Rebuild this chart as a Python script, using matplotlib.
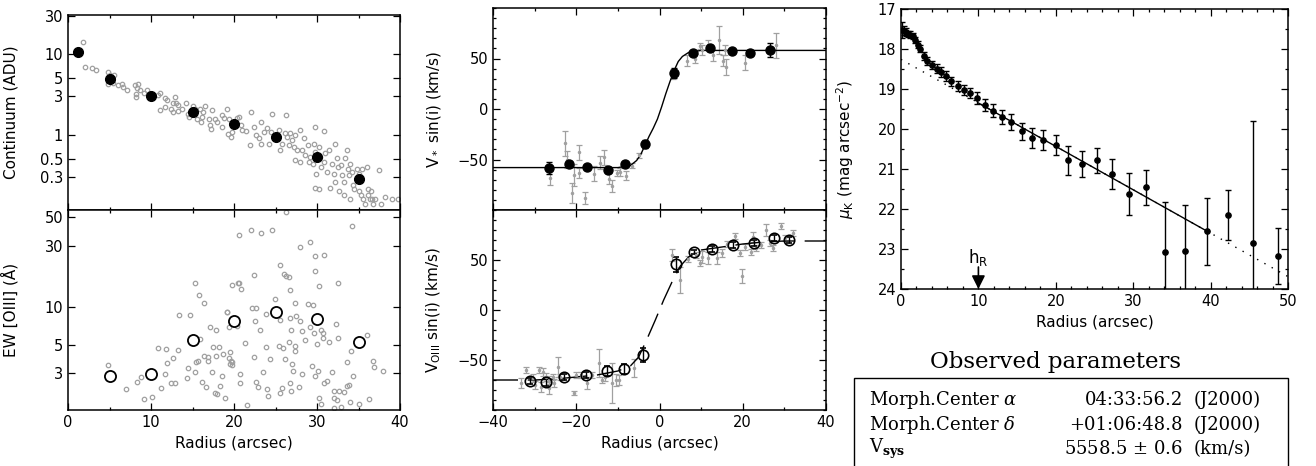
import numpy as np
import matplotlib
matplotlib.use("Agg")
import matplotlib.pyplot as plt
from matplotlib.patches import Rectangle
from matplotlib.ticker import MultipleLocator, NullLocator, FixedLocator, FixedFormatter

plt.rcParams['font.family'] = ['DejaVu Sans']
plt.rcParams['mathtext.fontset'] = 'dejavusans'

GRAY = '#a0a0a0'

# ---- continuum profile (top left) ----
cont_r_bin = [1.2, 5.0, 10.0, 15.0, 20.0, 25.0, 30.0, 35.0]
cont_bin = [10.6, 4.87, 3.06, 1.94, 1.35, 0.93, 0.525, 0.284]

cont_r = [1.8, 2.0, 2.85, 3.4, 4.85, 5.05, 5.6, 4.8, 5.4, 6.05, 6.5, 6.65, 7.05, 8.05, 8.4,
          8.3, 8.7, 8.25, 8.2, 9.1, 9.5, 10.85, 11.1, 11.7, 11.9, 12.85, 12.6, 13.0, 13.3, 11.1,
          11.7, 12.4, 12.6, 13.3, 13.7, 14.25, 15.1, 15.3, 15.9, 16.45, 16.3, 16.1, 14.55, 14.4, 15.5,
          16.05, 16.95, 17.35, 17.1, 17.25, 17.75, 17.95, 18.5, 18.85, 19.1, 19.35, 18.5, 19.25, 19.6, 19.8,
          20.35, 20.6, 20.8, 21.0, 21.4, 22.1, 21.9, 22.4, 22.7, 23.0, 23.2, 23.3, 23.6, 24.0, 24.2,
          24.6, 24.4, 25.4, 25.6, 25.8, 26.3, 26.1, 26.4, 26.6, 26.8, 27.0, 27.2, 27.4, 27.3, 27.6,
          28.0, 27.9, 28.2, 28.4, 28.6, 28.9, 29.0, 29.2, 29.7, 29.6, 29.8, 29.5, 29.9, 29.8, 30.2,
          30.2, 30.4, 30.5, 30.8, 30.9, 31.0, 31.2, 31.5, 31.6, 31.8, 32.0, 32.2, 32.2, 32.4, 32.5,
          32.7, 32.9, 33.0, 33.2, 33.3, 33.4, 33.6, 33.7, 33.8, 34.0, 34.0, 34.2, 34.3, 34.5, 34.8,
          35.0, 35.1, 35.3, 35.4, 35.6, 35.8, 36.0, 36.1, 36.2, 36.4, 36.5, 36.6, 36.8, 37.0, 37.5,
          37.7, 38.2, 39.0, 39.7]
cont_val = [14.1, 6.9, 6.8, 6.3, 6.0, 5.55, 5.55, 4.3, 4.4, 4.1, 4.2, 3.9, 3.6, 4.1, 4.2,
            3.8, 3.55, 3.2, 2.95, 3.25, 3.55, 3.1, 3.25, 2.87, 2.7, 2.9, 2.45, 2.5, 2.33, 2.02,
            2.2, 2.11, 1.92, 1.98, 2.11, 2.45, 2.28, 2.08, 2.08, 2.28, 1.92, 1.67, 1.67, 1.83, 1.56,
            1.45, 1.59, 2.02, 1.32, 1.18, 1.56, 1.45, 1.78, 1.62, 2.08, 1.56, 1.26, 1.01, 0.94, 1.09,
            1.62, 1.67, 1.32, 1.14, 1.11, 1.92, 0.75, 1.26, 0.99, 0.9, 1.45, 0.78, 1.09, 1.2, 0.78,
            1.83, 1.09, 1.14, 0.65, 0.78, 1.75, 1.04, 0.94, 0.75, 1.04, 0.86, 0.71, 0.99, 0.49, 0.65,
            1.14, 0.46, 0.65, 0.9, 0.56, 0.75, 0.46, 0.53, 1.26, 0.78, 0.62, 0.44, 0.33, 0.22, 0.21,
            0.71, 0.53, 0.4, 0.46, 1.11, 0.59, 0.35, 0.65, 0.22, 0.44, 0.33, 0.78, 0.26, 0.51, 0.4,
            0.2, 0.42, 0.32, 0.18, 0.26, 0.51, 0.65, 0.38, 0.32, 0.16, 0.44, 0.35, 0.24, 0.21, 0.38,
            0.33, 0.2, 0.18, 0.38, 0.16, 0.14, 0.4, 0.21, 0.18, 0.16, 0.2, 0.16, 0.14, 0.16, 0.37,
            0.14, 0.17, 0.16, 0.16]

# ---- EW [OIII] (bottom left) ----
ew_r_bin = [5.0, 10.0, 15.0, 20.0, 25.0, 30.0, 35.0]
ew_bin = [2.87, 2.96, 5.48, 7.76, 9.0, 8.0, 5.25]

ew_r = [4.8, 7.0, 8.3, 8.85, 9.2, 10.1, 10.8, 11.8, 11.9, 11.2, 11.7, 12.6, 12.4, 12.9, 13.3,
        13.4, 14.7, 14.3, 14.45, 15.3, 15.4, 15.7, 15.9, 15.3, 15.8, 16.4, 16.1, 16.6, 16.35, 16.9,
        16.9, 17.1, 17.8, 17.3, 17.5, 17.8, 17.7, 18.0, 18.2, 18.5, 18.35, 18.7, 18.95, 19.2, 19.35,
        19.55, 19.35, 19.6, 19.75, 19.5, 19.75, 19.7, 20.45, 19.1, 20.35,
        20.65, 22.1, 23.2, 24.6, 34.2, 28.0, 29.1, 29.7, 30.9, 25.6, 22.45, 26.0, 26.3, 26.6, 20.6,
        20.9, 29.8, 30.2, 32.5, 26.8, 24.9, 22.2, 22.6, 27.4, 28.9, 29.5, 23.8, 22.5, 25.6, 26.7,
        27.5, 27.9, 23.1, 26.9, 28.2, 29.2, 29.6, 30.5, 30.7, 30.0, 30.7, 31.5, 32.3, 32.5, 21.3,
        23.9, 25.4, 25.9, 26.6, 27.3, 27.4, 28.5, 34.1, 36.0, 22.45, 24.3, 26.1, 27.0, 33.6, 36.7,
        36.9, 38.0, 23.5, 27.1, 28.2, 29.35, 29.7, 30.1, 31.8, 34.3, 20.7, 20.7, 22.6, 22.9, 24.0,
        25.8, 26.8, 26.9, 27.8, 25.6, 24.1, 30.8, 31.2, 32.0, 32.7, 33.3, 33.6, 33.8, 30.2, 32.1,
        32.4, 30.5, 32.1, 32.9, 34.0, 35.1, 36.3, 21.6, 26.3]
ew_val = [3.48, 2.28, 2.57, 2.82, 1.88, 1.95, 4.71, 4.65, 3.59, 2.32, 2.96, 3.93, 2.5, 2.5, 4.57,
          8.6, 8.6, 2.77, 3.28, 3.09, 3.7, 3.76, 5.57, 15.3, 12.3, 10.6, 2.58, 2.36, 4.1, 4.05,
          3.76, 6.9, 6.5, 3.09, 4.8, 4.1, 2.1, 2.05, 4.85, 2.86, 2.39, 4.23, 1.93, 9.0, 6.9,
          4.38, 3.93, 3.76, 3.7, 3.53, 3.5, 14.8, 15.3, 9.1, 7.05,
          36.2, 40.0, 37.8, 40.0, 43.0, 29.3, 31.8, 24.7, 25.5, 21.3, 17.7, 17.9, 17.2, 16.9, 15.3,
          13.7, 19.0, 14.6, 15.3, 13.4, 11.5, 9.7, 9.7, 10.7, 10.5, 10.2, 8.7, 7.7, 7.86, 8.1,
          8.5, 7.7, 6.55, 6.55, 6.4, 6.96, 6.18, 6.55, 6.18, 5.1, 5.64, 5.25, 7.3, 5.64, 5.2,
          4.85, 4.94, 4.76, 5.3, 4.9, 4.45, 5.47, 4.5, 6.0, 4.05, 3.88, 3.86, 3.53, 3.7, 3.76,
          3.38, 3.15, 3.09, 3.12, 2.94, 3.42, 2.86, 3.12, 3.05, 2.88, 2.96, 2.54, 2.57, 2.36, 2.28,
          2.3, 2.5, 2.18, 2.36, 2.09, 2.0, 2.54, 2.6, 2.19, 2.19, 2.13, 2.39, 2.42, 1.94, 1.93,
          1.85, 1.74, 1.61, 1.64, 1.78, 1.74, 1.9, 1.69, 55.0]

# ---- stellar velocity (top middle) ----
vs_r = [-26.6, -21.8, -17.4, -12.4, -8.2, -3.6, 3.4, 7.95, 12.1, 17.5, 21.7, 26.5]
vs_v = [-58.3, -54.3, -57.3, -60.3, -54.3, -35.0, 35.7, 55.0, 60.0, 57.3, 55.0, 58.3]
vs_e = [6.3, 3.0, 2.0, 3.0, 2.0, 4.0, 5.0, 2.0, 3.0, 2.0, 2.0, 6.7]

vs_raw_r = [-26.2, -22.6, -22.2, -21.1, -20.6, -19.4, -19.4, -17.9, -15.8, -14.2, -13.4, -12.2,
            -11.4, -10.2, -9.4, -8.0, -6.6, -5.0, 3.35, 6.5, 8.5, 9.7, 10.3, 11.6, 12.9, 14.35,
            15.3, 16.0, 15.7, 20.5, 28.1]
vs_raw_v = [-68.7, -34.0, -50.0, -83.0, -65.0, -43.0, -63.0, -88.0, -64.0, -53.0, -48.0, -69.0,
            -76.0, -63.0, -62.5, -66.0, -56.0, -46.0, 35.0, 48.0, 50.0, 62.0, 58.0, 63.0, 53.0, 68.0,
            48.0, 42.0, 58.0, 46.0, 63.0]
vs_raw_e = [7, 12.5, 8, 10, 11, 7, 5, 6, 7.5, 6, 7.5, 5.5, 6, 3, 4, 4.5, 2.5, 2.5, 5, 5, 4, 3, 5,
            5, 5, 14, 5, 8, 5, 7.5, 12.5]

vs_fit_r = [-40, -10, -7, -5.5, -4.5, -3.5, -2.5, -1.5, -0.5, 0.5, 1.5, 2.5, 3.5, 4.5, 5.5, 7, 10, 40]
vs_fit_v = [-58, -58, -56, -51, -45, -36, -27, -19, -10, 2, 15, 27, 38, 47, 52, 56, 58, 58]

# ---- [OIII] gas velocity (bottom middle) ----
vg_r = [-31.1, -27.3, -22.9, -17.6, -12.7, -8.5, -4.0, 4.05, 8.4, 12.6, 17.7, 22.8, 27.4, 31.1]
vg_v = [-71.0, -72.3, -67.3, -65.0, -61.0, -59.0, -45.0, 45.7, 58.3, 60.7, 65.0, 67.3, 72.3, 70.0]
vg_e = [3, 4, 3, 3, 5, 5, 7, 7.5, 2, 3, 3, 3, 3, 3]

vg_raw_r = [-33.3, -32.1, -30.5, -29.8, -28.9, -28.5, -28.1, -27.3, -26.5, -26.5, -25.7, -25.3,
            -24.3, -23.9, -20.5, -20.1, -18.9, -17.3, -16.1, -14.5, -13.7, -13.1, -11.4, -10.5,
            -9.7, -6.2, 3.0, 5.0, 6.8, 8.7, 9.8, 10.3, 11.7, 13.7, 14.9, 16.1, 18.1, 19.3, 19.7,
            20.5, 22.1, 22.5, 23.3, 24.5, 25.7, 26.5, 27.3, 29.3, 30.1, 32.1]
vg_raw_v = [-73.3, -60.0, -68.0, -75.0, -60.0, -76.7, -61.7, -66.7, -70.0, -78.3, -66.7, -73.3,
            -56.7, -66.7, -83.3, -65.0, -65.0, -73.3, -65.0, -53.3, -70.0, -66.7, -73.3, -70.0,
            -70.0, -58.3, 55.0, 30.0, 50.7, 55.0, 46.7, 53.3, 51.7, 51.7, 56.7, 66.0, 74.0, 56.7, 34.0,
            63.3, 58.3, 73.3, 61.7, 65.0, 80.0, 66.7, 61.7, 84.0, 71.7, 76.7]
vg_raw_e = [5, 3, 4, 4, 3, 5, 4, 4, 4, 6, 3, 4, 10, 3, 2, 3, 3, 6, 3, 14, 3, 4, 20, 6, 5, 9,
            6, 13, 3, 3, 3, 6, 6, 6, 4, 3, 3, 3, 7, 3, 3, 5, 3, 3, 6, 3, 3, 3, 3, 3]

vg_fit_r = [-40, -30, -25, -20, -15, -10, -7, -5, -3, -1, 0, 1, 3, 5, 7, 10, 15, 20, 25, 30, 40]
vg_fit_v = [-70, -70, -69, -67, -65, -61, -56, -47, -29, -10, 0, 10, 28, 44, 53, 60, 63, 66, 68, 69, 69]

# ---- K-band surface brightness (right) ----
mu_r = [0.13, 0.4, 0.65, 0.95, 1.2, 1.5, 1.8, 2.2, 2.5, 3.0, 3.4, 4.0, 4.6, 5.2, 5.8, 6.5, 7.3,
        8.1, 8.9, 9.85, 10.9, 11.9, 13.0, 14.2, 15.6, 16.95, 18.4, 20.0, 21.6, 23.4, 25.3, 27.3,
        29.5, 31.7, 34.1, 36.7, 39.5, 42.3, 45.5, 48.7]
mu = [17.52, 17.54, 17.58, 17.62, 17.64, 17.68, 17.77, 17.89, 17.99, 18.18, 18.29, 18.41, 18.49,
      18.58, 18.67, 18.81, 18.93, 19.02, 19.1, 19.22, 19.39, 19.54, 19.7, 19.83, 20.06, 20.22,
      20.28, 20.41, 20.78, 20.88, 20.78, 21.12, 21.63, 21.46, 23.08, 23.06, 22.56, 22.15, 22.86, 23.17]
mu_e_up = [0.2, 0.12, 0.1, 0.08, 0.08, 0.08, 0.08, 0.08, 0.08, 0.1, 0.1, 0.1, 0.12, 0.12, 0.12,
           0.12, 0.12, 0.12, 0.13, 0.15, 0.15, 0.17, 0.18, 0.2, 0.22, 0.25, 0.25, 0.25, 0.36,
           0.33, 0.31, 0.37, 0.52, 0.44, 1.25, 1.15, 0.84, 0.62, 3.05, 0.7]
mu_e_dn = [0.2, 0.12, 0.1, 0.08, 0.08, 0.08, 0.08, 0.08, 0.08, 0.1, 0.1, 0.1, 0.12, 0.12, 0.12,
           0.12, 0.12, 0.12, 0.13, 0.15, 0.15, 0.17, 0.18, 0.2, 0.22, 0.25, 0.25, 0.25, 0.36,
           0.33, 0.31, 0.37, 0.52, 0.44, 1.5, 1.5, 0.84, 0.62, 1.5, 0.7]

disk_r = [0, 50]
disk_mu = [18.26, 23.69]
disk_fit_r = [10, 39.5]
disk_fit_mu = [19.35, 22.55]
h_R = 10

table_rows = [("Morph.Center $\\alpha$", "04:33:56.2", "(J2000)"),
              ("Morph.Center $\\delta$", "+01:06:48.8", "(J2000)"),
              ("V$_{\\mathbf{sys}}$", "5558.5 $\\pm$ 0.6", "(km/s)")]


W, H = 1316, 466
fig = plt.figure(figsize=(W / 100, H / 100), dpi=100)


def box(x0, y0, x1, y1):
    return fig.add_axes([x0 / W, 1 - y1 / H, (x1 - x0) / W, (y1 - y0) / H])


def style(ax):
    ax.tick_params(which='both', direction='in', top=True, right=True, labelsize=10.5, width=0.9)
    ax.tick_params(which='major', length=5)
    ax.tick_params(which='minor', length=2.5)
    for s in ax.spines.values():
        s.set_linewidth(1.1)


ax1 = box(68, 15, 400, 210)
ax2 = box(68, 210, 400, 410)
ax3 = box(493, 8, 826, 210)
ax4 = box(493, 210, 826, 410)
ax5 = box(901, 9, 1288, 289)

# top left
ax1.plot(cont_r, cont_val, 'o', ms=3.2, mfc='none', mec=GRAY, mew=0.9)
ax1.plot(cont_r_bin, cont_bin, 'o', ms=7, color='black')
ax1.set_yscale('log')
ax1.set_ylim(0.117, 30.5)
ax1.set_xlim(0, 40)
ax1.yaxis.set_major_locator(FixedLocator([0.3, 0.5, 1, 3, 5, 10, 30]))
ax1.yaxis.set_major_formatter(FixedFormatter(['0.3', '0.5', '1', '3', '5', '10', '30']))
ax1.yaxis.set_minor_locator(NullLocator())
ax1.xaxis.set_major_locator(MultipleLocator(10))
ax1.xaxis.set_minor_locator(MultipleLocator(5))
ax1.set_xticklabels([])
ax1.set_ylabel('Continuum (ADU)', fontsize=11)
ax1.yaxis.set_label_coords(-0.15, 0.5)
style(ax1)

# bottom left
ax2.plot(ew_r, ew_val, 'o', ms=3.2, mfc='none', mec=GRAY, mew=0.9)
ax2.plot(ew_r_bin, ew_bin, 'o', ms=8, mfc='white', mec='black', mew=1.3)
ax2.set_yscale('log')
ax2.set_ylim(1.55, 57)
ax2.set_xlim(0, 40)
ax2.yaxis.set_major_locator(FixedLocator([3, 5, 10, 30, 50]))
ax2.yaxis.set_major_formatter(FixedFormatter(['3', '5', '10', '30', '50']))
ax2.yaxis.set_minor_locator(NullLocator())
ax2.xaxis.set_major_locator(MultipleLocator(10))
ax2.xaxis.set_minor_locator(MultipleLocator(5))
ax2.set_xlabel('Radius (arcsec)', fontsize=11)
ax2.set_ylabel('EW [OIII] (Å)', fontsize=11)
ax2.yaxis.set_label_coords(-0.15, 0.5)
style(ax2)

# top middle
ax3.errorbar(vs_raw_r, vs_raw_v, yerr=vs_raw_e, fmt='o', ms=1.5, color=GRAY,
             ecolor=GRAY, elinewidth=0.9, capsize=2, capthick=0.9)
ax3.plot(vs_fit_r, vs_fit_v, '-', color='black', lw=1.0)
ax3.errorbar(vs_r, vs_v, yerr=vs_e, fmt='o', ms=6.5, color='black',
             elinewidth=1.0, capsize=2.5, capthick=1.0)
ax3.set_xlim(-40, 40)
ax3.set_ylim(-100, 100)
ax3.xaxis.set_major_locator(MultipleLocator(20))
ax3.xaxis.set_minor_locator(MultipleLocator(10))
ax3.yaxis.set_major_locator(FixedLocator([-50, 0, 50]))
ax3.yaxis.set_minor_locator(MultipleLocator(10))
ax3.set_xticklabels([])
ax3.set_ylabel('V$_*$ sin(i) (km/s)', fontsize=11)
ax3.yaxis.set_label_coords(-0.15, 0.5)
style(ax3)

# bottom middle
ax4.errorbar(vg_raw_r, vg_raw_v, yerr=vg_raw_e, fmt='o', ms=1.5, color=GRAY,
             ecolor=GRAY, elinewidth=0.9, capsize=2, capthick=0.9)
ax4.plot(vg_fit_r, vg_fit_v, color='black', lw=1.0, dashes=(18, 7))
ax4.errorbar(vg_r, vg_v, yerr=vg_e, fmt='o', ms=7.5, mfc='none', mec='black', mew=1.2,
             ecolor='black', elinewidth=1.0, capsize=2.5, capthick=1.0)
ax4.set_xlim(-40, 40)
ax4.set_ylim(-100, 100)
ax4.xaxis.set_major_locator(MultipleLocator(20))
ax4.xaxis.set_minor_locator(MultipleLocator(10))
ax4.yaxis.set_major_locator(FixedLocator([-50, 0, 50]))
ax4.yaxis.set_minor_locator(MultipleLocator(10))
ax4.set_xlabel('Radius (arcsec)', fontsize=11)
ax4.set_ylabel('V$_{\\rm OIII}$ sin(i) (km/s)', fontsize=11)
ax4.yaxis.set_label_coords(-0.15, 0.5)
style(ax4)

# right: surface brightness profile
ax5.plot(disk_r, disk_mu, color='black', lw=1.0, linestyle=(0, (1, 5)))
ax5.plot(disk_fit_r, disk_fit_mu, color='black', lw=1.0)
ax5.errorbar(mu_r, mu, yerr=[mu_e_up, mu_e_dn], fmt='o', ms=3.8, color='black',
             elinewidth=1.0, capsize=2.3, capthick=1.0)
ax5.annotate('', xy=(h_R, 24.0), xytext=(h_R, 23.45),
             arrowprops=dict(arrowstyle='-|>', color='black', lw=1.2, mutation_scale=20,
                             shrinkA=0, shrinkB=0))
ax5.text(h_R, 23.2, 'h$_{\\rm R}$', ha='center', va='center', fontsize=12)
ax5.set_xlim(0, 50)
ax5.set_ylim(24, 17)
ax5.xaxis.set_major_locator(MultipleLocator(10))
ax5.xaxis.set_minor_locator(MultipleLocator(2))
ax5.yaxis.set_major_locator(MultipleLocator(1))
ax5.yaxis.set_minor_locator(MultipleLocator(0.5))
ax5.set_xlabel('Radius (arcsec)', fontsize=11)
ax5.set_ylabel('$\\mu_{\\rm K}$ (mag arcsec$^{-2}$)', fontsize=11)
ax5.yaxis.set_label_coords(-0.115, 0.5)
style(ax5)

# observed parameters box
fig.add_artist(Rectangle((854 / W, -0.1), (1288 - 854) / W, 0.1 + 1 - 378 / H,
                         transform=fig.transFigure, fill=False, lw=1.0, color='black'))
fig.text(1055 / W, 1 - 362 / H, 'Observed parameters', ha='center', va='center',
         fontsize=16.5, family='DejaVu Serif')
row_y = [400, 425, 449]
for (lab, val, unit), yy in zip(table_rows, row_y):
    kw = dict(va='center', fontsize=13, family='DejaVu Serif', math_fontfamily='dejavuserif')
    fig.text(869 / W, 1 - yy / H, lab, ha='left', **kw)
    fig.text(1183 / W, 1 - yy / H, val, ha='right', **kw)
    fig.text(1194 / W, 1 - yy / H, unit, ha='left', **kw)

fig.savefig('out.png', dpi=100)
